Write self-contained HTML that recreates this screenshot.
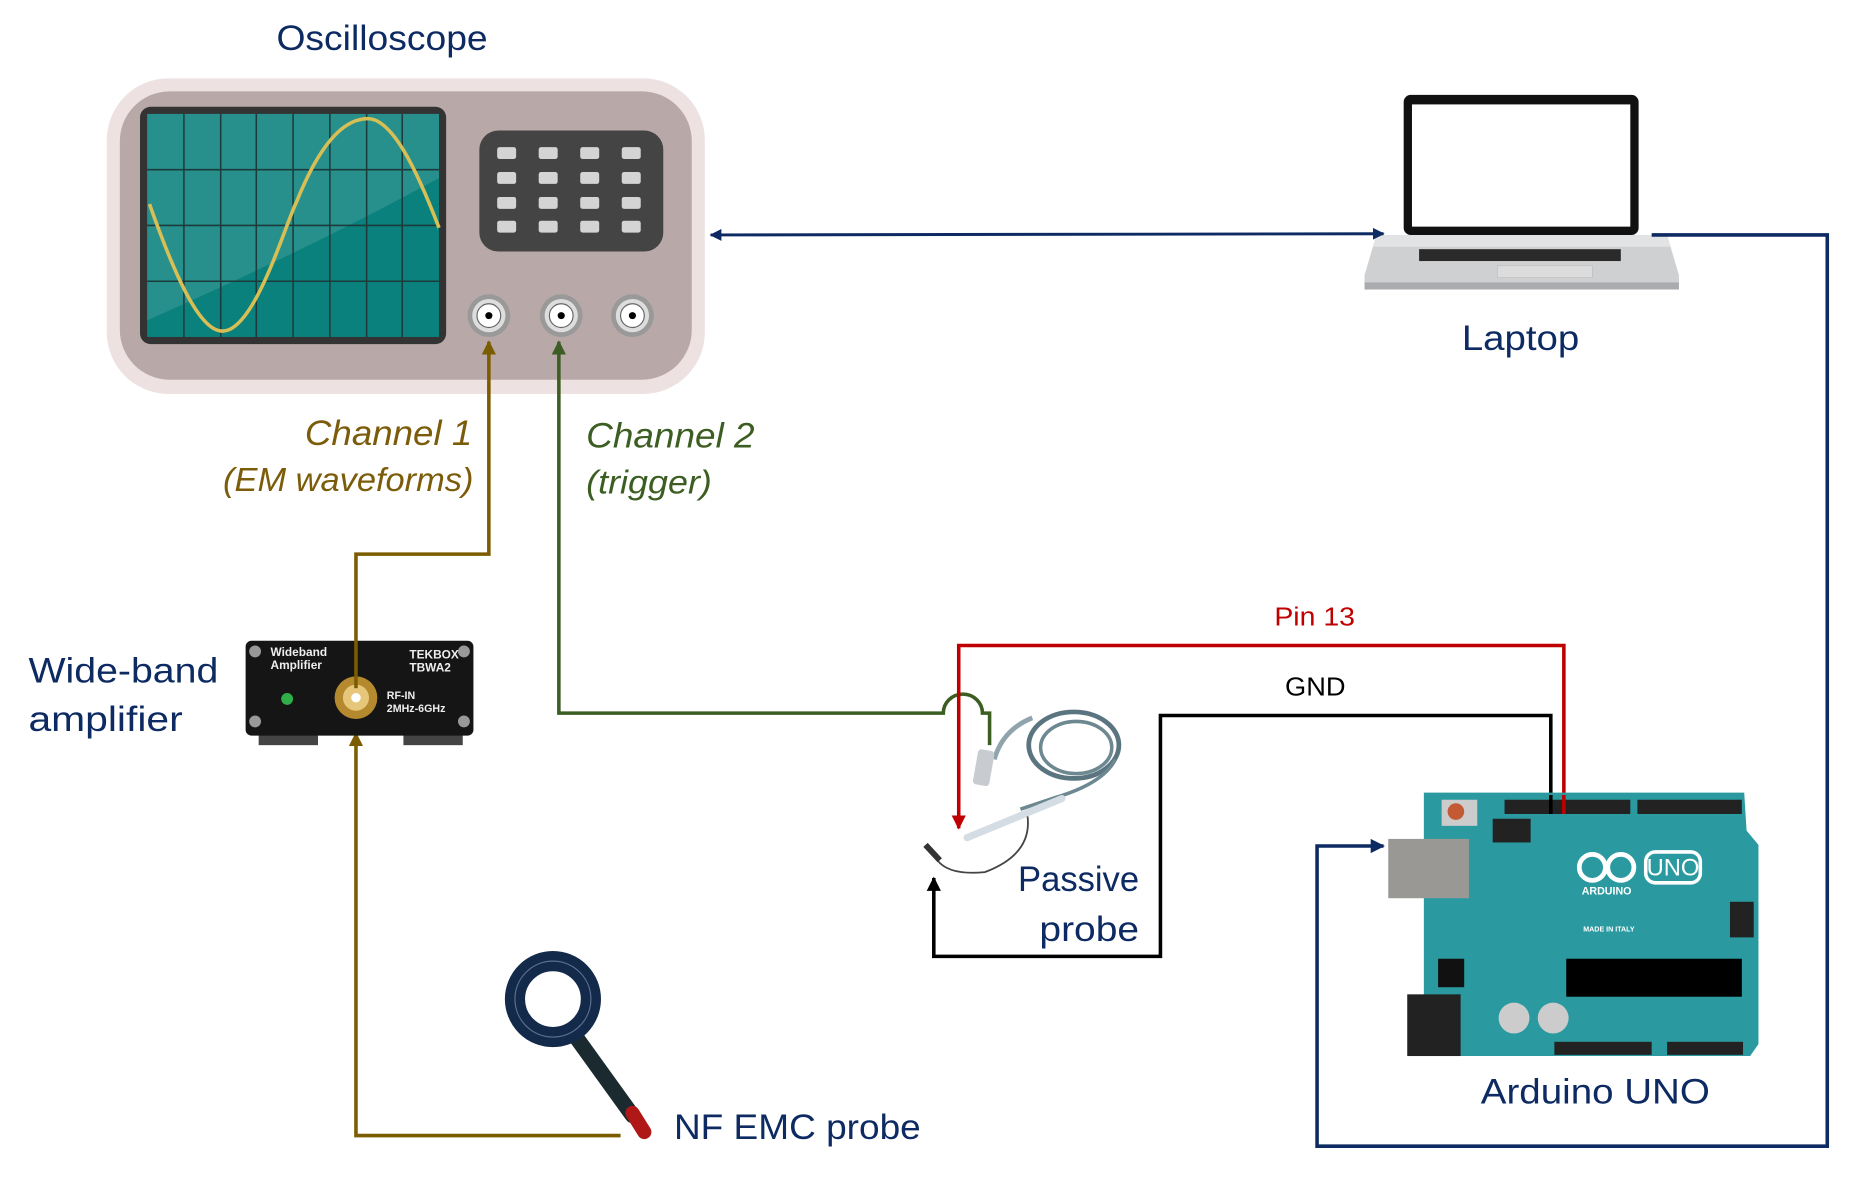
<!DOCTYPE html>
<html><head><meta charset="utf-8"><style>
html,body{margin:0;padding:0;background:#fff;}
svg{display:block;}
text{font-family:"Liberation Sans",sans-serif;}
</style></head><body>
<svg width="1851" height="1183" viewBox="0 0 1560 997" preserveAspectRatio="none" xmlns="http://www.w3.org/2000/svg">
<defs>
<marker id="ab" viewBox="0 0 10 10" refX="9" refY="5" markerWidth="4" markerHeight="4" orient="auto-start-reverse"><path d="M0,0L10,5L0,10z" fill="#0d2a62"/></marker>
<marker id="ay" viewBox="0 0 10 10" refX="9" refY="5" markerWidth="4" markerHeight="4" orient="auto"><path d="M0,0L10,5L0,10z" fill="#7b5c00"/></marker>
<marker id="ag" viewBox="0 0 10 10" refX="9" refY="5" markerWidth="4" markerHeight="4" orient="auto"><path d="M0,0L10,5L0,10z" fill="#3d5e22"/></marker>
<marker id="ar" viewBox="0 0 10 10" refX="9" refY="5" markerWidth="4" markerHeight="4" orient="auto"><path d="M0,0L10,5L0,10z" fill="#c00000"/></marker>
<marker id="ak" viewBox="0 0 10 10" refX="9" refY="5" markerWidth="4" markerHeight="4" orient="auto"><path d="M0,0L10,5L0,10z" fill="#000"/></marker>
</defs>

<!-- Oscilloscope -->
<text x="233" y="42" font-size="30" fill="#0d2a62" textLength="178" lengthAdjust="spacingAndGlyphs">Oscilloscope</text>
<rect x="90" y="66" width="504" height="266" rx="52" fill="#ede1e1"/>
<rect x="101" y="77" width="482" height="243" rx="42" fill="#b9a8a8"/>
<rect x="118" y="90" width="258" height="200" rx="9" fill="#333"/>
<rect x="124" y="96" width="246" height="188" fill="#0a817d"/>
<path d="M124,96H370V150Q260,210 124,270Z" fill="#fff" opacity="0.12"/>
<g stroke="#1d3b3a" stroke-width="1.3">
<line x1="155" y1="96" x2="155" y2="284"/><line x1="186" y1="96" x2="186" y2="284"/><line x1="216" y1="96" x2="216" y2="284"/><line x1="247" y1="96" x2="247" y2="284"/><line x1="278" y1="96" x2="278" y2="284"/><line x1="309" y1="96" x2="309" y2="284"/><line x1="339" y1="96" x2="339" y2="284"/>
<line x1="124" y1="143" x2="370" y2="143"/><line x1="124" y1="190" x2="370" y2="190"/><line x1="124" y1="237" x2="370" y2="237"/>
</g>
<path d="M126,172 C150,240 170,280 188,279 C215,278 240,190 250,170 C270,120 290,100 310,100 C330,100 350,140 370,192" fill="none" stroke="#d7bf55" stroke-width="3"/>
<rect x="404" y="110" width="155" height="102" rx="16" fill="#444"/>
<g fill="#d4d4d4">
<rect x="419" y="124" width="16" height="10" rx="2"/><rect x="454" y="124" width="16" height="10" rx="2"/><rect x="489" y="124" width="16" height="10" rx="2"/><rect x="524" y="124" width="16" height="10" rx="2"/>
<rect x="419" y="145" width="16" height="10" rx="2"/><rect x="454" y="145" width="16" height="10" rx="2"/><rect x="489" y="145" width="16" height="10" rx="2"/><rect x="524" y="145" width="16" height="10" rx="2"/>
<rect x="419" y="166" width="16" height="10" rx="2"/><rect x="454" y="166" width="16" height="10" rx="2"/><rect x="489" y="166" width="16" height="10" rx="2"/><rect x="524" y="166" width="16" height="10" rx="2"/>
<rect x="419" y="186" width="16" height="10" rx="2"/><rect x="454" y="186" width="16" height="10" rx="2"/><rect x="489" y="186" width="16" height="10" rx="2"/><rect x="524" y="186" width="16" height="10" rx="2"/>
</g>
<g>
<circle cx="412" cy="266" r="18" fill="#999"/><circle cx="412" cy="266" r="14" fill="#ddd"/><circle cx="412" cy="266" r="10" fill="#fff" stroke="#666"/><circle cx="412" cy="266" r="3" fill="#000"/>
<circle cx="473" cy="266" r="18" fill="#999"/><circle cx="473" cy="266" r="14" fill="#ddd"/><circle cx="473" cy="266" r="10" fill="#fff" stroke="#666"/><circle cx="473" cy="266" r="3" fill="#000"/>
<circle cx="533" cy="266" r="18" fill="#999"/><circle cx="533" cy="266" r="14" fill="#ddd"/><circle cx="533" cy="266" r="10" fill="#fff" stroke="#666"/><circle cx="533" cy="266" r="3" fill="#000"/>
</g>

<!-- Laptop -->
<rect x="1183" y="80" width="198" height="118" rx="6" fill="#111"/>
<rect x="1190" y="88" width="184" height="103" fill="#fff"/>
<path d="M1150,232 L1160,198 H1405 L1415,232 V240 Q1415,244 1410,244 H1155 Q1150,244 1150,240Z" fill="#cfd0d2"/>
<path d="M1160,198 H1405 L1408,208 H1157Z" fill="#e2e3e5"/>
<rect x="1196" y="210" width="170" height="10" fill="#2a2a2a"/>
<rect x="1262" y="224" width="80" height="10" fill="#dcdcdc" stroke="#bbb" stroke-width="0.5"/>
<rect x="1150" y="238" width="265" height="6" fill="#a9abae"/>
<text x="1232" y="295" font-size="30" fill="#0d2a62" textLength="99" lengthAdjust="spacingAndGlyphs">Laptop</text>

<!-- bidirectional arrow -->
<line x1="599" y1="198" x2="1166" y2="197" stroke="#0d2a62" stroke-width="2.5" marker-start="url(#ab)" marker-end="url(#ab)"/>
<polyline points="1392,198 1540,198 1540,966 1110,966 1110,713 1166,713" fill="none" stroke="#0d2a62" stroke-width="3" marker-end="url(#ab)"/>

<!-- Channel 1 -->
<polyline points="300,540 300,467 412,467 412,288" fill="none" stroke="#7b5c00" stroke-width="3" marker-end="url(#ay)"/>
<polyline points="523,957 300,957 300,618" fill="none" stroke="#7b5c00" stroke-width="3" marker-end="url(#ay)"/>
<text x="257" y="375" font-size="30" font-style="italic" fill="#7b5c0a" textLength="141" lengthAdjust="spacingAndGlyphs">Channel 1</text>
<text x="188" y="414" font-size="28" font-style="italic" fill="#7b5c0a" textLength="211" lengthAdjust="spacingAndGlyphs">(EM waveforms)</text>

<!-- Channel 2 -->
<path d="M834,628 V601 H828 A16.5,16 0 0 0 795,601 H471 V288" fill="none" stroke="#3d5e22" stroke-width="3" marker-end="url(#ag)"/>
<text x="494" y="377" font-size="30" font-style="italic" fill="#3d5e22" textLength="142" lengthAdjust="spacingAndGlyphs">Channel 2</text>
<text x="494" y="416" font-size="28" font-style="italic" fill="#3d5e22" textLength="106" lengthAdjust="spacingAndGlyphs">(trigger)</text>

<!-- Pin 13 red -->
<polyline points="1318,680 1318,544 808,544 808,698" fill="none" stroke="#c00000" stroke-width="3" marker-end="url(#ar)"/>
<text x="1074" y="527" font-size="22" fill="#c00000" textLength="68" lengthAdjust="spacingAndGlyphs">Pin 13</text>
<polyline points="1307,680 1307,603 978,603 978,806 787,806 787,740" fill="none" stroke="#000" stroke-width="3" marker-end="url(#ak)"/>
<text x="1083" y="586" font-size="22" fill="#000" textLength="51" lengthAdjust="spacingAndGlyphs">GND</text>

<!-- Amplifier -->
<rect x="218" y="618" width="50" height="10" fill="#444"/><rect x="340" y="618" width="50" height="10" fill="#444"/>
<rect x="207" y="540" width="192" height="80" rx="5" fill="#151515"/>
<circle cx="215" cy="549" r="5" fill="#999"/><circle cx="391" cy="549" r="5" fill="#999"/><circle cx="215" cy="608" r="5" fill="#999"/><circle cx="391" cy="608" r="5" fill="#999"/>
<circle cx="242" cy="589" r="5" fill="#2fae4a"/>
<circle cx="300" cy="588" r="18" fill="#b58a2e"/><circle cx="300" cy="588" r="11" fill="#e6c77a"/><circle cx="300" cy="588" r="4" fill="#fff"/>
<text x="228" y="553" font-size="10" fill="#eee" font-family="Liberation Mono" font-weight="bold">Wideband</text>
<text x="228" y="564" font-size="10" fill="#eee" font-family="Liberation Mono" font-weight="bold">Amplifier</text>
<text x="345" y="555" font-size="10" fill="#eee" font-family="Liberation Mono" font-weight="bold">TEKBOX</text>
<text x="345" y="566" font-size="10" fill="#eee" font-family="Liberation Mono" font-weight="bold">TBWA2</text>
<text x="326" y="589" font-size="9" fill="#eee" font-family="Liberation Mono" font-weight="bold">RF-IN</text>
<text x="326" y="600" font-size="9" fill="#eee" font-family="Liberation Mono" font-weight="bold">2MHz-6GHz</text>
<text x="24" y="575" font-size="30" fill="#0d2a62" textLength="160" lengthAdjust="spacingAndGlyphs">Wide-band</text>
<text x="24" y="616" font-size="30" fill="#0d2a62" textLength="130" lengthAdjust="spacingAndGlyphs">amplifier</text>
<line x1="300" y1="540" x2="300" y2="580" stroke="#7b5c00" stroke-width="3"/>

<!-- EMC probe -->
<line x1="484" y1="872" x2="533" y2="940" stroke="#1b2a2e" stroke-width="13" stroke-linecap="round"/>
<line x1="533" y1="938" x2="543" y2="954" stroke="#b01818" stroke-width="12" stroke-linecap="round"/>
<circle cx="466" cy="842" r="32" fill="none" stroke="#132a4a" stroke-width="17"/>
<circle cx="466" cy="842" r="32" fill="none" stroke="#8aa0c0" stroke-width="1" opacity="0.6"/>
<text x="568" y="960" font-size="30" fill="#0d2a62" textLength="208" lengthAdjust="spacingAndGlyphs">NF EMC probe</text>

<!-- Passive probe -->
<ellipse cx="905" cy="628" rx="38" ry="28" fill="none" stroke="#5b7580" stroke-width="4"/>
<ellipse cx="907" cy="630" rx="30" ry="22" fill="none" stroke="#6d8891" stroke-width="3"/>
<path d="M940,640 Q930,660 890,672 L860,682" fill="none" stroke="#6d8891" stroke-width="3"/>
<path d="M870,605 Q845,615 838,640" fill="none" stroke="#8fa4ad" stroke-width="4"/>
<rect x="822" y="632" width="14" height="30" rx="3" fill="#c8ccd0" transform="rotate(10 829 647)"/>
<line x1="895" y1="673" x2="815" y2="706" stroke="#d5dde4" stroke-width="6" stroke-linecap="round"/>
<path d="M866,688 Q870,720 830,735 Q800,738 790,725" fill="none" stroke="#444" stroke-width="1.5"/>
<path d="M780,712 L792,725" stroke="#333" stroke-width="5"/>
<text x="858" y="751" font-size="30" fill="#0d2a62" textLength="102" lengthAdjust="spacingAndGlyphs">Passive</text>
<text x="876" y="793" font-size="30" fill="#0d2a62" textLength="84" lengthAdjust="spacingAndGlyphs">probe</text>

<!-- Arduino -->
<path d="M1200,668 H1470 L1472,700 L1482,712 V880 L1475,890 H1200Z" fill="#2a9aa0"/>
<rect x="1170" y="707" width="68" height="50" fill="#9a9895"/>
<rect x="1268" y="674" width="106" height="12" fill="#222"/><rect x="1380" y="674" width="88" height="12" fill="#222"/>
<rect x="1215" y="674" width="30" height="22" fill="#ccc"/><circle cx="1227" cy="684" r="7" fill="#c35a34"/>
<rect x="1258" y="690" width="32" height="20" fill="#222"/>
<text x="1410" y="738" font-size="20" fill="#fff" text-anchor="middle">UNO</text>
<rect x="1387" y="718" width="46" height="26" rx="8" fill="none" stroke="#fff" stroke-width="3"/>
<circle cx="1342" cy="731" r="11" fill="none" stroke="#fff" stroke-width="4"/><circle cx="1366" cy="731" r="11" fill="none" stroke="#fff" stroke-width="4"/>
<text x="1354" y="754" font-size="9" fill="#fff" text-anchor="middle" font-weight="bold">ARDUINO</text>
<text x="1356" y="785" font-size="6" fill="#fff" text-anchor="middle" font-weight="bold">MADE IN ITALY</text>
<rect x="1320" y="808" width="148" height="32" fill="#000"/>
<rect x="1212" y="808" width="22" height="24" fill="#111"/>
<rect x="1186" y="838" width="45" height="52" fill="#222"/>
<circle cx="1276" cy="858" r="13" fill="#ccc"/><circle cx="1309" cy="858" r="13" fill="#ccc"/>
<rect x="1310" y="878" width="82" height="11" fill="#222"/><rect x="1405" y="878" width="64" height="11" fill="#222"/>
<rect x="1458" y="760" width="20" height="30" fill="#222"/>
<text x="1248" y="930" font-size="30" fill="#0d2a62" textLength="193" lengthAdjust="spacingAndGlyphs">Arduino UNO</text>
<line x1="1318" y1="670" x2="1318" y2="686" stroke="#c00000" stroke-width="3"/>
<line x1="1307" y1="670" x2="1307" y2="686" stroke="#000" stroke-width="3"/>
</svg>
</body></html>
